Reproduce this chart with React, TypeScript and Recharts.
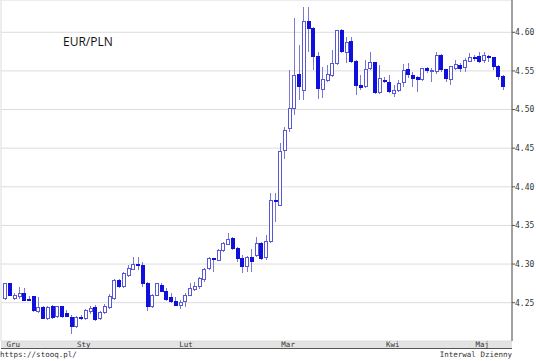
import React from 'react';
import { ComposedChart, Bar, XAxis, YAxis, CartesianGrid } from 'recharts';

// EUR/PLN, daily candles Dec 2019 - May 2020
const monthNames = ['Gru', 'Sty', 'Lut', 'Mar', 'Kwi', 'Maj'];
const monthKeys = ['2019-12', '2020-01', '2020-02', '2020-03', '2020-04', '2020-05'];
const tradingDays = [
  [20, 23, 24, 27, 30, 31],
  [2, 3, 6, 7, 8, 9, 10, 13, 14, 15, 16, 17, 20, 21, 22, 23, 24, 27, 28, 29, 30, 31],
  [3, 4, 5, 6, 7, 10, 11, 12, 13, 14, 17, 18, 19, 20, 21, 24, 25, 26, 27, 28],
  [2, 3, 4, 5, 6, 9, 10, 11, 12, 13, 16, 17, 18, 19, 20, 23, 24, 25, 26, 27, 30, 31],
  [1, 2, 3, 6, 7, 8, 9, 13, 14, 15, 16, 17, 20, 21, 22, 23, 24, 27, 28, 29, 30],
  [4, 5, 6, 7, 8, 11, 12, 13, 14, 15, 18, 19, 20, 21, 22],
];

const open = [
  4.2554, 4.2748, 4.2554, 4.2575, 4.2619, 4.2545, 4.2575, 4.2385, 4.2437, 4.2295,
  4.2446, 4.2316, 4.2446, 4.2359, 4.2308, 4.2187, 4.2308, 4.2295, 4.2381, 4.2433,
  4.2295, 4.2368, 4.2437, 4.2554, 4.2791, 4.2705, 4.2856, 4.2934, 4.2995, 4.2986,
  4.2748, 4.2446, 4.2597, 4.2727, 4.2649, 4.2563, 4.2520, 4.2468, 4.2511, 4.2597,
  4.2670, 4.2705, 4.2800, 4.2942, 4.3072, 4.3050, 4.3180, 4.3258, 4.3331, 4.3201,
  4.3072, 4.2973, 4.3081, 4.3115, 4.3266, 4.3085, 4.3288, 4.3827, 4.3763, 4.4475,
  4.4756, 4.5015, 4.5455, 4.5248, 4.6137, 4.6051, 4.5684, 4.5261, 4.5382, 4.5447,
  4.5598, 4.6021, 4.5740, 4.5887, 4.5620, 4.5310, 4.5296, 4.5533, 4.5611, 4.5222,
  4.5382, 4.5352, 4.5209, 4.5253, 4.5350, 4.5512, 4.5439, 4.5413, 4.5383, 4.5534,
  4.5491, 4.5491, 4.5706, 4.5512, 4.5383, 4.5534, 4.5564, 4.5542, 4.5620, 4.5672,
  4.5685, 4.5629, 4.5685, 4.5672, 4.5555, 4.5426,
];
const high = [
  4.2761, 4.2757, 4.2627, 4.2705, 4.2696, 4.2588, 4.2584, 4.2575, 4.2454, 4.2454,
  4.2467, 4.2463, 4.2454, 4.2403, 4.2338, 4.2325, 4.2338, 4.2424, 4.2454, 4.2467,
  4.2390, 4.2480, 4.2610, 4.2813, 4.2813, 4.2899, 4.2986, 4.3085, 4.3085, 4.3029,
  4.2770, 4.2610, 4.2760, 4.2760, 4.2690, 4.2619, 4.2576, 4.2533, 4.2619, 4.2757,
  4.2770, 4.2834, 4.2955, 4.3094, 4.3078, 4.3201, 4.3288, 4.3396, 4.3353, 4.3223,
  4.3115, 4.3102, 4.3201, 4.3353, 4.3288, 4.3374, 4.3914, 4.3922, 4.4561, 4.4777,
  4.5511, 4.6181, 4.5835, 4.6332, 4.6332, 4.6073, 4.5750, 4.5550, 4.5576, 4.5771,
  4.6035, 4.6043, 4.5943, 4.5943, 4.5641, 4.5447, 4.5641, 4.5749, 4.5620, 4.5576,
  4.5425, 4.5447, 4.5317, 4.5382, 4.5590, 4.5599, 4.5482, 4.5439, 4.5542, 4.5555,
  4.5534, 4.5750, 4.5715, 4.5525, 4.5568, 4.5642, 4.5599, 4.5663, 4.5728, 4.5706,
  4.5741, 4.5741, 4.5706, 4.5685, 4.5577, 4.5447,
];
const low = [
  4.2541, 4.2584, 4.2541, 4.2554, 4.2519, 4.2519, 4.2381, 4.2372, 4.2290, 4.2282,
  4.2295, 4.2308, 4.2308, 4.2316, 4.2092, 4.2178, 4.2273, 4.2282, 4.2359, 4.2265,
  4.2273, 4.2351, 4.2424, 4.2532, 4.2696, 4.2696, 4.2834, 4.2921, 4.2921, 4.2705,
  4.2390, 4.2430, 4.2585, 4.2640, 4.2520, 4.2502, 4.2459, 4.2420, 4.2446, 4.2584,
  4.2653, 4.2683, 4.2770, 4.2929, 4.2899, 4.3042, 4.3158, 4.3245, 4.3180, 4.3029,
  4.2878, 4.2899, 4.2899, 4.3094, 4.3050, 4.3050, 4.3275, 4.3547, 4.3750, 4.4354,
  4.4712, 4.4928, 4.5123, 4.5123, 4.5750, 4.5510, 4.5140, 4.5150, 4.5360, 4.5425,
  4.5576, 4.5727, 4.5598, 4.5598, 4.5188, 4.5253, 4.5274, 4.5512, 4.5196, 4.5196,
  4.5339, 4.5209, 4.5166, 4.5231, 4.5290, 4.5404, 4.5296, 4.5231, 4.5370, 4.5469,
  4.5361, 4.5456, 4.5491, 4.5352, 4.5318, 4.5512, 4.5491, 4.5491, 4.5611, 4.5629,
  4.5599, 4.5599, 4.5620, 4.5512, 4.5383, 4.5253,
];
const close = [
  4.2748, 4.2597, 4.2597, 4.2619, 4.2532, 4.2528, 4.2394, 4.2437, 4.2295, 4.2437,
  4.2308, 4.2446, 4.2316, 4.2325, 4.2187, 4.2308, 4.2290, 4.2394, 4.2424, 4.2282,
  4.2372, 4.2454, 4.2584, 4.2791, 4.2705, 4.2878, 4.2942, 4.2999, 4.2980, 4.2748,
  4.2446, 4.2597, 4.2748, 4.2649, 4.2545, 4.2520, 4.2468, 4.2500, 4.2597, 4.2683,
  4.2705, 4.2813, 4.2929, 4.3072, 4.3059, 4.3180, 4.3266, 4.3318, 4.3201, 4.3072,
  4.2964, 4.3085, 4.3029, 4.3266, 4.3072, 4.3288, 4.3827, 4.3806, 4.4453, 4.4734,
  4.5015, 4.5446, 4.5296, 4.6137, 4.6051, 4.5684, 4.5274, 4.5390, 4.5455, 4.5598,
  4.6021, 4.5749, 4.5870, 4.5620, 4.5309, 4.5290, 4.5512, 4.5611, 4.5222, 4.5404,
  4.5360, 4.5240, 4.5250, 4.5339, 4.5500, 4.5456, 4.5404, 4.5383, 4.5525, 4.5499,
  4.5499, 4.5706, 4.5512, 4.5404, 4.5555, 4.5577, 4.5525, 4.5629, 4.5672, 4.5663,
  4.5620, 4.5698, 4.5672, 4.5555, 4.5426, 4.5296,
];

const yTicks = [4.25, 4.3, 4.35, 4.4, 4.45, 4.5, 4.55, 4.6];
const yDomain = [4.2004, 4.6418];

const dates = monthKeys.flatMap((k, m) =>
  tradingDays[m].map((d) => `${k}-${String(d).padStart(2, '0')}`)
);
const data = dates.map((d, i) => ({
  d,
  o: open[i],
  h: high[i],
  l: low[i],
  c: close[i],
  range: [low[i], high[i]],
}));

// first trading day of each month (grid lines / ticks)
const startIdx = monthKeys.map((k) => dates.findIndex((d) => d.startsWith(k)));
const monthStarts = startIdx.slice(1).map((i) => dates[i]);

// category axis padding and a matching numeric axis for the month labels
const PLOT_W = 511;
const PAD_L = 2.3;
const PAD_R = 6.2;
const N = data.length;
const band = (PLOT_W - PAD_L - PAD_R) / N;
const labDomain = [-0.5 - PAD_L / band, N - 0.5 + PAD_R / band];
const bounds = [labDomain[0], ...startIdx.slice(1), labDomain[1]];
const labelTicks = monthNames.map((_, m) => (bounds[m] + bounds[m + 1]) / 2);

const UP = '#5858d6';
const DOWN = '#1010dc';
const WICK = '#7a7ad2';
const AXIS = '#555';
const MONO = 'DejaVu Sans Mono, monospace';

const Candle = (props: any) => {
  const { x, y, width, height, payload } = props;
  if (x == null || y == null) return null;
  const top = Math.min(y, y + height);
  const h = Math.abs(height);
  const span = payload.h - payload.l;
  const k = span > 0 ? h / span : 0;
  const up = payload.c >= payload.o;
  const yo = top + (payload.h - payload.o) * k;
  const yc = top + (payload.h - payload.c) * k;
  const bTop = Math.min(yo, yc);
  const bH = Math.max(Math.abs(yo - yc), 1);
  const cx = x + width / 2;
  return (
    <g shapeRendering="crispEdges">
      <line x1={cx} x2={cx} y1={top} y2={top + h} stroke={WICK} strokeWidth={1} />
      <rect
        x={cx - 1.5}
        y={bTop}
        width={3}
        height={bH}
        fill={up ? '#ffffff' : DOWN}
        stroke={up ? UP : DOWN}
        strokeWidth={1}
      />
    </g>
  );
};

export default function App() {
  return (
    <div style={{ position: 'absolute', left: 0, top: 0, width: 536, height: 361, background: '#fff' }}>
      <div
        style={{
          position: 'absolute',
          left: 1,
          top: 341,
          width: 511,
          height: 8,
          background: '#e3e3e3',
          borderBottom: `1px solid ${AXIS}`,
          boxSizing: 'border-box',
        }}
      />
      <div style={{ position: 'absolute', left: 0, top: 0 }}>
        <ComposedChart
          width={536}
          height={361}
          data={data}
          margin={{ top: 0, right: 0, bottom: 12, left: 1 }}
        >
          <CartesianGrid xAxisId="c" yAxisId="r" stroke="#dcdcdc" />
          <XAxis
            xAxisId="c"
            dataKey="d"
            orientation="bottom"
            height={0}
            mirror
            ticks={monthStarts}
            interval={0}
            tick={false}
            tickSize={3}
            padding={{ left: PAD_L, right: PAD_R }}
            axisLine={{ stroke: AXIS }}
            tickLine={{ stroke: AXIS }}
          />
          <XAxis
            xAxisId="lab"
            type="number"
            domain={labDomain}
            allowDataOverflow
            ticks={labelTicks}
            interval={0}
            height={8}
            axisLine={false}
            tickLine={false}
            tickSize={0}
            tickMargin={1}
            tickFormatter={(_v: number, i: number) => monthNames[i]}
            tick={{ fontSize: 7.5, fontFamily: MONO, fill: '#333' }}
          />
          <XAxis
            xAxisId="t"
            dataKey="d"
            orientation="top"
            height={0}
            mirror
            ticks={monthStarts}
            interval={0}
            tick={false}
            tickSize={3}
            padding={{ left: PAD_L, right: PAD_R }}
            axisLine={{ stroke: AXIS }}
            tickLine={{ stroke: AXIS }}
          />
          <YAxis
            yAxisId="r"
            orientation="right"
            width={24}
            domain={yDomain}
            allowDataOverflow
            ticks={yTicks}
            interval={0}
            tickSize={3}
            tickMargin={0}
            tickFormatter={(v: number) => v.toFixed(2)}
            tick={{ fontSize: 8, fontFamily: MONO, fill: '#333' }}
            axisLine={{ stroke: AXIS }}
            tickLine={{ stroke: AXIS }}
          />
          <YAxis
            yAxisId="l"
            orientation="left"
            width={0}
            mirror
            domain={yDomain}
            allowDataOverflow
            ticks={yTicks}
            interval={0}
            tick={false}
            tickSize={3}
            axisLine={{ stroke: AXIS }}
            tickLine={{ stroke: AXIS }}
          />
          <Bar
            xAxisId="c"
            yAxisId="r"
            dataKey="range"
            barSize={4}
            shape={<Candle />}
            isAnimationActive={false}
          />
        </ComposedChart>
      </div>
      <div
        style={{
          position: 'absolute',
          left: 63,
          top: 36,
          fontFamily: 'Open Sans, sans-serif',
          fontSize: 12,
          lineHeight: '12px',
          color: '#111',
        }}
      >
        EUR/PLN
      </div>
      <div
        style={{
          position: 'absolute',
          left: 0,
          top: 351,
          fontFamily: MONO,
          fontSize: 7.5,
          lineHeight: '8px',
          color: '#333',
        }}
      >
        https://stooq.pl/
      </div>
      <div
        style={{
          position: 'absolute',
          right: 24,
          top: 351,
          fontFamily: MONO,
          fontSize: 7.5,
          lineHeight: '8px',
          color: '#333',
        }}
      >
        Interwal Dzienny
      </div>
    </div>
  );
}
